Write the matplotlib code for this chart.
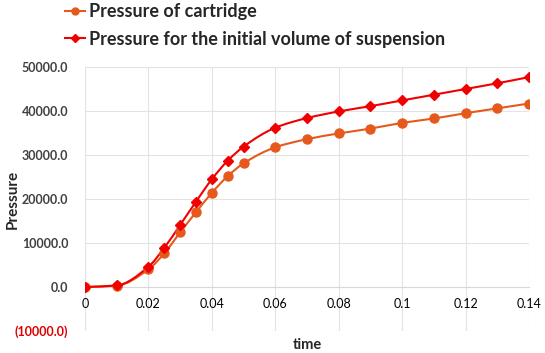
import numpy as np
import matplotlib
matplotlib.use("Agg")
import matplotlib.pyplot as plt
from matplotlib.path import Path
from matplotlib.patches import PathPatch
from matplotlib.lines import Line2D

plt.rcParams["font.family"] = ["Lato", "DejaVu Sans"]

# data
time = [0, 0.01, 0.02, 0.025, 0.03, 0.035, 0.04, 0.045, 0.05,
        0.06, 0.07, 0.08, 0.09, 0.10, 0.11, 0.12, 0.13, 0.14]
p_cartridge = [0, 300, 4000, 7650, 12400, 17000, 21400, 25200, 28100,
               31750, 33600, 34900, 36000, 37300, 38300, 39500, 40600, 41700]
p_initial = [0, 350, 4600, 8900, 14100, 19400, 24500, 28700, 31900,
             36200, 38400, 39900, 41100, 42400, 43700, 45000, 46300, 47700]
labels = ["Pressure of cartridge", "Pressure for the initial volume of suspension"]
colors = ["#E55A1C", "#F00000"]
markers = ["o", "D"]
yticks = [-10000, 0, 10000, 20000, 30000, 40000, 50000]
xticks = [0, 0.02, 0.04, 0.06, 0.08, 0.1, 0.12, 0.14]
xticklabels = ["0", "0.02", "0.04", "0.06", "0.08", "0.1", "0.12", "0.14"]


def smooth_path(x, y):
    # monotone cubic bezier through the points (smoothed line look)
    x = np.asarray(x, float)
    y = np.asarray(y, float)
    h = np.diff(x)
    d = np.diff(y) / h
    m = np.zeros_like(y)
    m[0], m[-1] = d[0], d[-1]
    for i in range(1, len(y) - 1):
        if d[i - 1] * d[i] > 0:
            w1 = 2 * h[i] + h[i - 1]
            w2 = h[i] + 2 * h[i - 1]
            m[i] = (w1 + w2) / (w1 / d[i - 1] + w2 / d[i])
    verts = [(x[0], y[0])]
    codes = [Path.MOVETO]
    for i in range(len(x) - 1):
        verts += [(x[i] + h[i] / 3, y[i] + m[i] * h[i] / 3),
                  (x[i + 1] - h[i] / 3, y[i + 1] - m[i + 1] * h[i] / 3),
                  (x[i + 1], y[i + 1])]
        codes += [Path.CURVE4] * 3
    return Path(verts, codes)


fig = plt.figure(figsize=(5.45, 3.53), dpi=100)
ax = fig.add_axes([85 / 545, 1 - 331 / 353, 444 / 545, 264 / 353])

handles = []
for vals, c, m, lab in zip([p_cartridge, p_initial], colors, markers, labels):
    ax.add_patch(PathPatch(smooth_path(time, vals), facecolor="none",
                           edgecolor=c, lw=1.5, zorder=3))
    ms = 6.5 if m == "o" else 5.5
    ax.plot(time, vals, linestyle="none", marker=m, color=c, ms=ms, zorder=4)
    handles.append(Line2D([], [], color=c, lw=1.5, marker=m, ms=ms - 1.5, label=lab))

ax.set_xlim(0, 0.14)
ax.set_ylim(-10000, 50000)
ax.set_xticks(xticks)
ax.set_xticklabels(xticklabels)
ax.set_yticks(yticks)
ax.set_yticklabels([f"{v:.1f}" if v >= 0 else f"({-v:.1f})" for v in yticks])
for v, t in zip(yticks, ax.get_yticklabels()):
    t.set_color("#E00000" if v < 0 else "#404040")
    t.set_fontweight("bold")
for t in ax.get_xticklabels():
    t.set_color("#404040")
    t.set_fontweight("bold")
ax.tick_params(axis="both", length=0, labelsize=9)
ax.tick_params(axis="y", pad=12)
ax.tick_params(axis="x", pad=8)

for s in ["top", "right", "left"]:
    ax.spines[s].set_visible(False)
ax.spines["bottom"].set_position(("data", 0))
ax.spines["bottom"].set_color("#d9d9d9")
ax.grid(True, color="#e3e3e3", lw=0.8)
ax.set_axisbelow(True)

fig.text(13 / 545, 1 - 199 / 353, "Pressure", rotation=90, ha="center", va="center",
         fontsize=11, fontweight="bold", color="#262626")
fig.text(307 / 545, 1 - 345 / 353, "time", ha="center", va="center",
         fontsize=10.5, fontweight="bold", color="#262626")

fig.legend(handles=handles, loc="upper left", bbox_to_anchor=(49 / 545, 1.038),
           frameon=False, handlelength=1.1, handletextpad=0.2, labelspacing=0.6,
           prop={"weight": "bold", "size": 13}, labelcolor="#262626")

fig.savefig("out.png", dpi=100)
